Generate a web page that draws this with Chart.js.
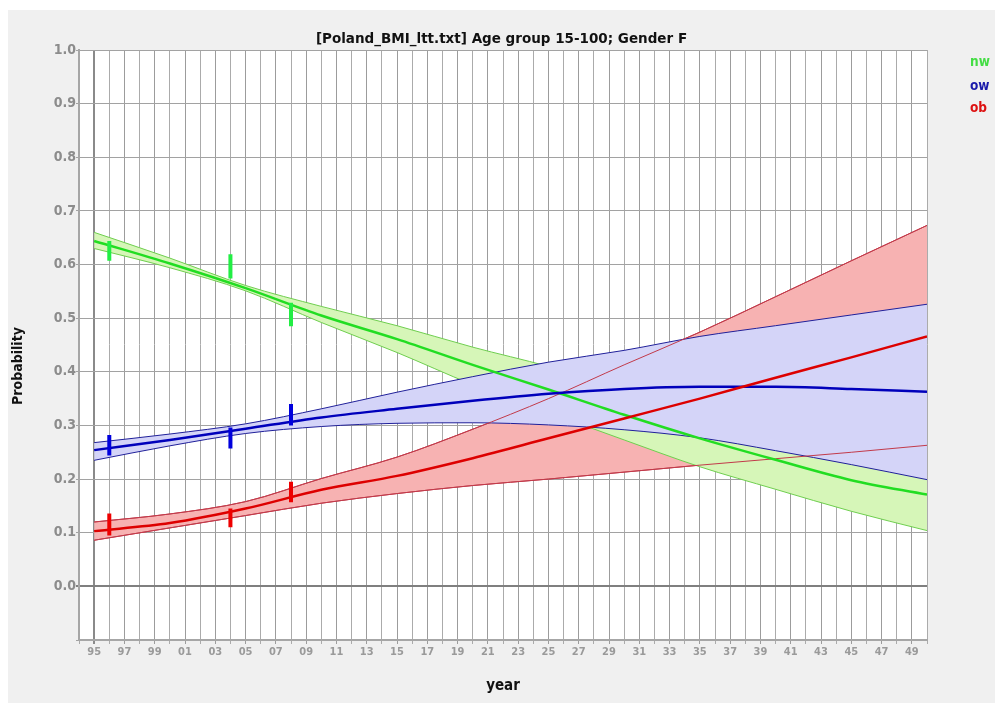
<!DOCTYPE html>
<html>
<head>
<meta charset="utf-8">
<script src="https://cdn.jsdelivr.net/npm/chart.js@4.4.0/dist/chart.umd.min.js"></script>
<style>
  html, body { margin: 0; padding: 0; background: #ffffff; }
  #wrap { position: absolute; left: 8px; top: 10px; width: 987px; height: 693px; background: #f0f0f0; }
  canvas { display: block; }
</style>
</head>
<body>
<div id="wrap"><canvas id="c" width="987" height="693"></canvas></div>
<script>
// ---- data ----
const years  = [1995, 2000, 2005, 2010, 2015, 2020, 2025, 2030, 2035, 2040, 2045, 2050];
const nwMid  = [0.644, 0.602, 0.556, 0.505, 0.461, 0.413, 0.367, 0.320, 0.276, 0.236, 0.198, 0.171];
const nwHi   = [0.660, 0.612, 0.561, 0.522, 0.486, 0.446, 0.410, 0.368, 0.330, 0.290, 0.255, 0.225];
const nwLo   = [0.630, 0.594, 0.551, 0.492, 0.436, 0.376, 0.324, 0.273, 0.223, 0.181, 0.140, 0.104];
const owMid  = [0.254, 0.273, 0.294, 0.315, 0.331, 0.346, 0.359, 0.368, 0.372, 0.372, 0.368, 0.363];
const owHi   = [0.268, 0.284, 0.303, 0.331, 0.362, 0.391, 0.418, 0.440, 0.466, 0.486, 0.506, 0.526];
const owLo   = [0.235, 0.262, 0.285, 0.298, 0.304, 0.305, 0.301, 0.292, 0.277, 0.253, 0.227, 0.199];
const obMid  = [0.103, 0.118, 0.145, 0.180, 0.206, 0.239, 0.276, 0.313, 0.350, 0.389, 0.427, 0.466];
const obHi   = [0.120, 0.135, 0.158, 0.201, 0.241, 0.293, 0.350, 0.413, 0.474, 0.540, 0.607, 0.673];
const obLo   = [0.086, 0.109, 0.132, 0.155, 0.173, 0.188, 0.200, 0.213, 0.226, 0.238, 0.250, 0.263];

const errYears = [1996, 2004, 2008];
const nwErrLo  = [0.607, 0.574, 0.485];
const nwErrHi  = [0.644, 0.619, 0.529];
const owErrLo  = [0.244, 0.257, 0.300];
const owErrHi  = [0.282, 0.296, 0.340];
const obErrLo  = [0.095, 0.110, 0.157];
const obErrHi  = [0.136, 0.145, 0.195];

const seriesNames = ['nw', 'ow', 'ob'];
const xTickLabels = ['95','97','99','01','03','05','07','09','11','13','15','17','19','21','23','25','27','29','31','33','35','37','39','41','43','45','47','49'];
const yTickLabels = ['0.0','0.1','0.2','0.3','0.4','0.5','0.6','0.7','0.8','0.9','1.0'];
const titleText = '[Poland_BMI_ltt.txt] Age group 15-100; Gender F';

// ---- styles ----
const FONT = "'DejaVu Sans Condensed', 'DejaVu Sans', sans-serif";
const FONT_W = "'DejaVu Sans', sans-serif";
const C = {
  nw: '#22dd22', ow: '#0000bb', ob: '#dd0000',
  nwFill: '#d6f6b8', owFill: '#d4d4f8', obFill: '#f7b2b2',
  nwEdge: '#6fcf4f', owEdge: '#20209a', obEdge: '#c23a4a',
  nwLeg: '#44dd44', owLeg: '#1a1aaa', obLeg: '#dd1111'
};

const pts = (ys) => years.map((x, i) => ({ x, y: ys[i] }));
const errPts = (lo, hi) => {
  const out = [];
  errYears.forEach((x, i) => { out.push({ x, y: lo[i] }, { x, y: hi[i] }, { x, y: null }); });
  return out;
};
const curve = (ys, color, width, order, extra) => Object.assign({
  data: pts(ys), borderColor: color, borderWidth: width, pointRadius: 0,
  fill: false, cubicInterpolationMode: 'monotone', order
}, extra || {});
const errSet = (lo, hi, color, order) => ({
  data: errPts(lo, hi), borderColor: color, borderWidth: 4, pointRadius: 0,
  fill: false, spanGaps: false, tension: 0, borderCapStyle: 'butt', order
});

const datasets = [
  curve(obHi, C.obEdge, 1, 60, { fill: '+1', backgroundColor: C.obFill }),
  curve(obLo, C.obEdge, 1, 59),
  curve(nwHi, C.nwEdge, 1, 50, { fill: '+1', backgroundColor: C.nwFill }),
  curve(nwLo, C.nwEdge, 1, 49),
  curve(owHi, C.owEdge, 1, 40, { fill: '+1', backgroundColor: C.owFill }),
  curve(owLo, C.owEdge, 1, 39),
  curve(obHi, C.obEdge, 1, 30),
  curve(obLo, C.obEdge, 1, 29),
  curve(nwMid, C.nw, 2.5, 12),
  curve(owMid, C.ow, 2.5, 11),
  curve(obMid, C.ob, 2.5, 10),
  errSet(nwErrLo, nwErrHi, '#22ee44', 3),
  errSet(owErrLo, owErrHi, '#0000dd', 2),
  errSet(obErrLo, obErrHi, '#ee0000', 1)
];

const extras = {
  id: 'extras',
  beforeDraw(chart) {
    const { ctx, chartArea: a } = chart;
    ctx.save();
    ctx.fillStyle = '#ffffff';
    ctx.fillRect(a.left, a.top, a.right - a.left, a.bottom - a.top);
    ctx.restore();
  },
  afterDraw(chart) {
    const { ctx } = chart;
    ctx.save();
    // y axis title
    ctx.font = "bold 14px " + FONT;
    ctx.fillStyle = '#111111';
    ctx.textAlign = 'center';
    ctx.textBaseline = 'middle';
    ctx.translate(10, 356);
    ctx.rotate(-Math.PI / 2);
    ctx.fillText('Probability', 0, 0);
    ctx.restore();
    // legend
    ctx.save();
    ctx.font = "bold 13.5px " + FONT;
    ctx.textAlign = 'left';
    ctx.textBaseline = 'alphabetic';
    const cols = [C.nwLeg, C.owLeg, C.obLeg];
    const base = [56, 79.5, 101.5];
    seriesNames.forEach((n, i) => { ctx.fillStyle = cols[i]; ctx.fillText(n, 962, base[i]); });
    ctx.restore();
  }
};

new Chart(document.getElementById('c'), {
  type: 'line',
  data: { datasets },
  plugins: [extras],
  options: {
    responsive: false,
    animation: false,
    events: [],
    layout: { padding: 0 },
    plugins: {
      legend: { display: false },
      tooltip: { enabled: false },
      title: {
        display: true, text: titleText, color: '#111111',
        font: { family: FONT_W, size: 13.5, weight: 'bold', lineHeight: 1.2 },
        padding: { top: 21.5, bottom: 2.3 }
      }
    },
    scales: {
      x: {
        type: 'linear', min: 1994, max: 2050,
        afterFit: (s) => { s.height = 63; },
        ticks: {
          stepSize: 1, autoSkip: false, maxRotation: 0, minRotation: 0, padding: 2,
          color: '#9a9a9a', font: { family: FONT, size: 11, weight: 'bold' },
          callback: (v) => (v % 2 === 1 ? xTickLabels[(v - 1995) / 2] : '')
        },
        grid: {
          tickLength: 4,
          color: (ctx) => (ctx.tick && ctx.tick.value === 1995 ? '#8a8a8a' : (ctx.tick && ctx.tick.value % 2 === 1 ? '#9c9c9c' : '#ababab')),
          lineWidth: (ctx) => (ctx.tick && ctx.tick.value === 1995 ? 2 : 1)
        },
        border: { display: true, color: '#a6a6a6', width: 2 },
        title: {
          display: true, text: 'year', color: '#111111',
          font: { family: FONT, size: 15, weight: 'bold', lineHeight: 1.2 },
          padding: { top: 0, bottom: 7.5 }
        }
      },
      y: {
        type: 'linear', min: -0.1, max: 1.0,
        afterFit: (s) => { s.width = 71; },
        ticks: {
          stepSize: 0.1, padding: 0, autoSkip: false,
          color: '#8c8c8c', font: { family: FONT, size: 14, weight: 'bold' },
          callback: (v) => { const k = Math.round(v * 10); return k >= 0 ? yTickLabels[k] : ''; }
        },
        grid: {
          tickLength: 3,
          color: (ctx) => (ctx.tick && Math.abs(ctx.tick.value) < 1e-9 ? '#7f7f7f' : '#a2a2a2'),
          lineWidth: (ctx) => (ctx.tick && Math.abs(ctx.tick.value) < 1e-9 ? 2 : 1)
        },
        border: { display: true, color: '#a6a6a6', width: 2 }
      },
      yRightSpace: {
        type: 'linear', position: 'right', display: true,
        afterFit: (s) => { s.width = 68; },
        ticks: { display: false },
        grid: { display: false, drawOnChartArea: false },
        border: { display: false }
      }
    }
  }
});
</script>
</body>
</html>
